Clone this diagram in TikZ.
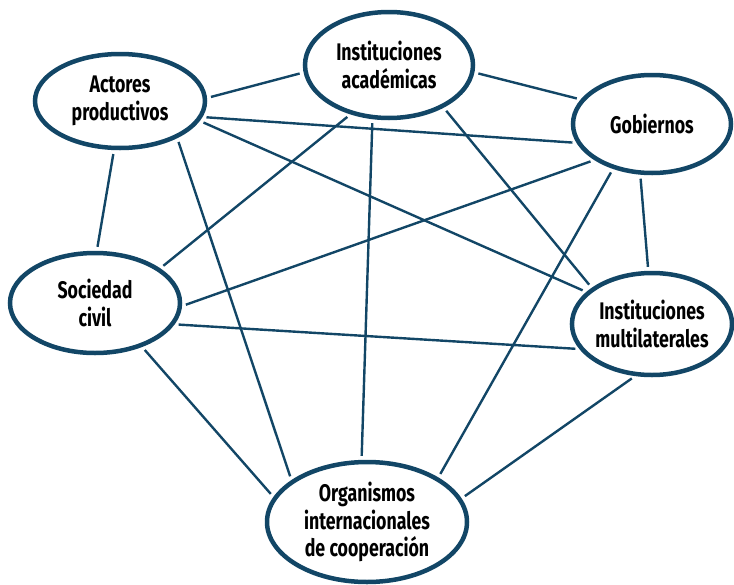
\documentclass[tikz,border=0pt]{standalone}
\usepackage{fontspec}
\newfontfamily\nodefont{Fira Sans}[FakeStretch=0.74]
\usetikzlibrary{shapes.geometric}

\definecolor{netblue}{RGB}{18,70,102}

\begin{document}
\begin{tikzpicture}[
  x=1pt, y=-1pt,
  actor/.style={ellipse, draw=netblue, line width=4.5pt, inner sep=0pt,
    align=center, font=\nodefont\bfseries\fontsize{24}{27.5}\selectfont},
  link/.style={netblue, line width=2.4pt, shorten <=4pt, shorten >=4pt},
]

\useasboundingbox (0,0) rectangle (734,584);

% --- Actors (outer edge measured, minus half the border) ---
\node[actor, minimum width=170pt, minimum height=94pt]  (act) at (120,101) {Actores\\productivos};
\node[actor, minimum width=168pt, minimum height=106pt] (aca) at (389,65)  {Instituciones\\académicas};
\node[actor, minimum width=158pt, minimum height=98pt]  (gob) at (652,124) {Gobiernos};
\node[actor, minimum width=170pt, minimum height=100pt] (soc) at (95,303)  {Sociedad\\civil};
\node[actor, minimum width=156pt, minimum height=102pt] (mul) at (652,324) {Instituciones\\multilaterales};
\node[actor, minimum width=200pt, minimum height=120pt] (org) at (367,522) {Organismos\\internacionales\\de cooperación};

% --- Links: every actor with every other one ---
% Actores productivos
\draw[link] (act.2)   -- (aca.185);
\draw[link] (act.-11) -- (gob.194);
\draw[link] (act.-14) -- (mul.154);
\draw[link] (act.-97) -- (soc.88);
\draw[link] (act.-33) -- (org.151);
% Instituciones academicas
\draw[link] (aca.-5)   -- (gob.161);
\draw[link] (aca.-128) -- (soc.28);
\draw[link] (aca.-107) -- (org.95);
\draw[link] (aca.-38)  -- (mul.149);
% Gobiernos
\draw[link] (gob.212)  -- (soc.-2);
\draw[link] (gob.229)  -- (org.32);
\draw[link] (gob.-103) -- (mul.94);
% Sociedad civil
\draw[link] (soc.-15) -- (mul.199);
\draw[link] (soc.-43) -- (org.165);
% Instituciones multilaterales
\draw[link] (mul.-108) -- (org.14);

\end{tikzpicture}
\end{document}
